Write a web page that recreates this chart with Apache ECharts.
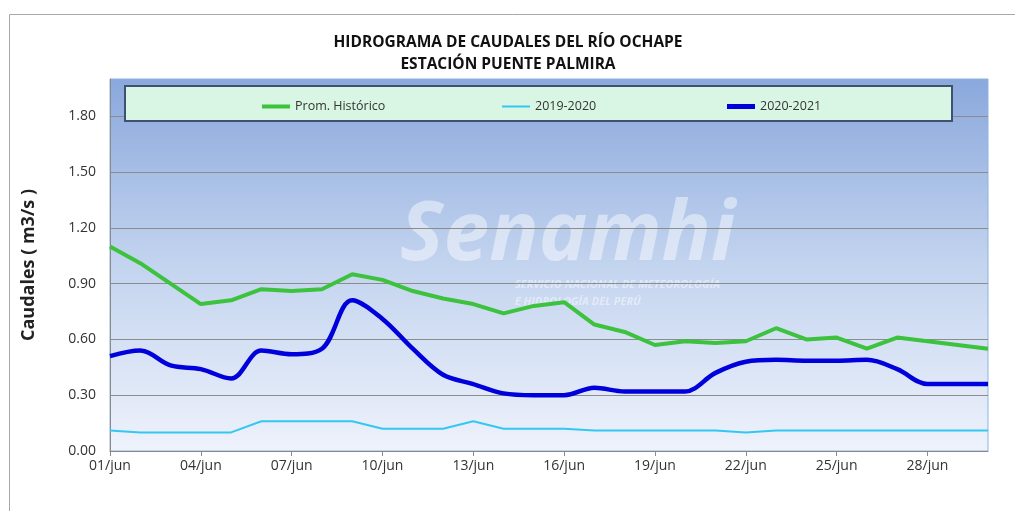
<!DOCTYPE html>
<html>
<head>
<meta charset="utf-8">
<script src="https://cdn.jsdelivr.net/npm/echarts@6/dist/echarts.min.js"></script>
<style>
  html, body { margin: 0; padding: 0; background: #fff; }
  #chart { width: 1015px; height: 511px; }
</style>
</head>
<body>
<div id="chart"></div>
<script>
// dias del mes de junio
const days = [];
for (let d = 1; d <= 30; d++) days.push((d < 10 ? "0" + d : "" + d) + "/jun");

const promHistorico = [1.10, 1.01, 0.90, 0.79, 0.81, 0.87, 0.86, 0.87, 0.95, 0.92,
  0.86, 0.82, 0.79, 0.74, 0.78, 0.80, 0.68, 0.64, 0.57, 0.59,
  0.58, 0.59, 0.66, 0.60, 0.61, 0.55, 0.61, 0.59, 0.57, 0.55];
const serie2019 = [0.11, 0.10, 0.10, 0.10, 0.10, 0.16, 0.16, 0.16, 0.16, 0.12,
  0.12, 0.12, 0.16, 0.12, 0.12, 0.12, 0.11, 0.11, 0.11, 0.11,
  0.11, 0.10, 0.11, 0.11, 0.11, 0.11, 0.11, 0.11, 0.11, 0.11];
const serie2020 = [0.51, 0.54, 0.46, 0.44, 0.39, 0.54, 0.52, 0.55, 0.81, 0.71,
  0.55, 0.41, 0.36, 0.31, 0.30, 0.30, 0.34, 0.32, 0.32, 0.32,
  0.42, 0.48, 0.49, 0.485, 0.485, 0.49, 0.44, 0.36, 0.36, 0.36];

const font = "'Open Sans', 'Noto Sans', sans-serif";
const chart = echarts.init(document.getElementById("chart"), null, { renderer: "canvas" });

const legendBase = {
  top: 95,
  itemWidth: 28,
  icon: "rect",
  textStyle: { fontFamily: font, fontSize: 12.5, color: "#333" },
  itemGap: 2
};

chart.setOption({
  animation: false,
  title: {
    text: "HIDROGRAMA DE CAUDALES DEL RÍO OCHAPE\nESTACIÓN PUENTE PALMIRA",
    left: 503,
    top: 27,
    textAlign: "center",
    textStyle: { fontFamily: font, fontSize: 15.5, fontWeight: "bold", color: "#111", lineHeight: 22 }
  },
  graphic: [
    {
      type: "rect", left: 7, top: 12, z: -10,
      shape: { width: 1020, height: 520 },
      style: { fill: "none", stroke: "#a8a8a8", lineWidth: 1 }
    },
    {
      type: "rect", left: 124, top: 85, z: 1,
      shape: { width: 827, height: 35 },
      style: { fill: "#d9f6e4", stroke: "#3d5270", lineWidth: 2 }
    },
    {
      type: "text", left: 400, top: 196, z: 0,
      style: { text: "Senamhi", font: "italic bold 82px 'Open Sans', sans-serif", fill: "rgba(255,255,255,0.45)" }
    },
    {
      type: "text", left: 515, top: 276, z: 0,
      style: {
        text: "SERVICIO NACIONAL DE METEOROLOGÍA\nE HIDROLOGÍA DEL PERÚ",
        font: "italic bold 11px 'Open Sans', sans-serif", lineHeight: 17, fill: "rgba(255,255,255,0.45)"
      }
    }
  ],
  legend: [
    Object.assign({}, legendBase, { left: 257, itemHeight: 4, data: ["Prom. Histórico"] }),
    Object.assign({}, legendBase, { left: 497, itemHeight: 2, data: ["2019-2020"] }),
    Object.assign({}, legendBase, { left: 722, itemHeight: 5, data: ["2020-2021"] })
  ],
  grid: {
    left: 110, right: 27, top: 79, bottom: 60,
    show: true,
    borderColor: "#8fb3e0",
    borderWidth: 1,
    backgroundColor: new echarts.graphic.LinearGradient(0, 0, 0, 1, [
      { offset: 0, color: "#8aa8dc" },
      { offset: 0.5, color: "#c3d4ef" },
      { offset: 1, color: "#eef2fb" }
    ])
  },
  xAxis: {
    type: "category",
    data: days,
    boundaryGap: false,
    axisLine: { lineStyle: { color: "#8a8a8a", width: 1 } },
    axisTick: { interval: 2, length: 5, lineStyle: { color: "#8a8a8a" } },
    axisLabel: { interval: 2, fontFamily: font, fontSize: 14, color: "#333", margin: 8 }
  },
  yAxis: {
    type: "value",
    min: 0,
    max: 2.0,
    interval: 0.3,
    name: "Caudales ( m3/s )",
    nameLocation: "middle",
    nameRotate: 90,
    nameGap: 72,
    nameTextStyle: { fontFamily: font, fontSize: 18, fontWeight: "bold", color: "#222" },
    axisLine: { show: true, lineStyle: { color: "#8a8a8a" } },
    axisTick: { show: false },
    axisLabel: {
      showMaxLabel: false,
      fontFamily: font, fontSize: 14, color: "#333", margin: 14,
      formatter: v => v.toFixed(2)
    },
    splitLine: { showMaxLine: false, lineStyle: { color: "#8c8c8c", width: 1 } }
  },
  series: [
    {
      name: "Prom. Histórico",
      type: "line",
      data: promHistorico,
      color: "#3cc23c",
      showSymbol: false,
      lineStyle: { width: 4, color: "#3cc23c" },
      z: 3
    },
    {
      name: "2019-2020",
      type: "line",
      data: serie2019,
      color: "#33c8f2",
      showSymbol: false,
      lineStyle: { width: 2, color: "#33c8f2" },
      z: 3
    },
    {
      name: "2020-2021",
      type: "line",
      data: serie2020,
      color: "#0000dd",
      smooth: 0.35,
      showSymbol: false,
      lineStyle: { width: 4.5, color: "#0000dd" },
      z: 4
    }
  ]
});
</script>
</body>
</html>
